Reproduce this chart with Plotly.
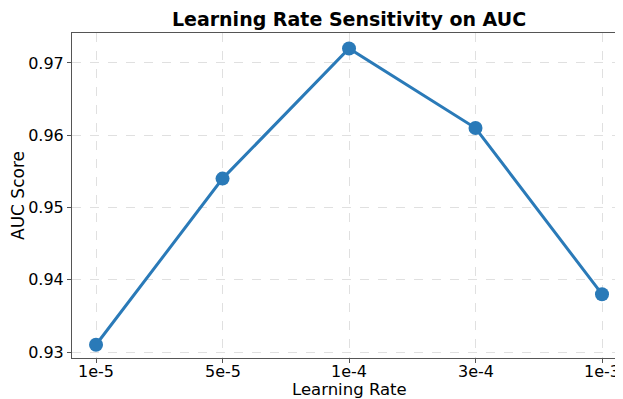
import plotly.graph_objects as go

learning_rates = ["1e-5", "5e-5", "1e-4", "3e-4", "1e-3"]
auc_scores = [0.931, 0.954, 0.972, 0.961, 0.938]

# page body has an 8px margin, so the figure is sized to fit inside the window
W, H, OFF = 615, 391, 8
L, T, B = 72 - OFF, 33 - OFF, 41
plot_w, plot_h = W - L, H - T - B

fig = go.Figure()
fig.add_trace(go.Scatter(
    x=learning_rates, y=auc_scores, mode="lines+markers",
    line=dict(color="#2a7ab8", width=3),
    marker=dict(color="#2a7ab8", size=14),
    showlegend=False,
))

font_family = "DejaVu Sans"
fig.update_layout(
    width=W, height=H,
    margin=dict(l=L, r=0, t=T, b=B, autoexpand=False),
    paper_bgcolor="white", plot_bgcolor="white",
    font=dict(family=font_family, color="black"),
    title=dict(text="<b>Learning Rate Sensitivity on AUC</b>", x=(349 - OFF) / W, xanchor="center",
               y=1 - (19 - OFF) / H, yanchor="middle", automargin=False,
               font=dict(size=19, family=font_family, color="black")),
)
# x tick labels placed as text at each category index, slightly closer to the axis than plotly's default
for i, lr in enumerate(learning_rates):
    fig.add_annotation(
        text=lr, xref="x", yref="paper", x=i,
        y=-(371.5 - OFF - (T + plot_h)) / plot_h,
        xanchor="center", yanchor="middle", showarrow=False,
        font=dict(size=16, family=font_family, color="black"),
    )
fig.add_annotation(
    text="Learning Rate", xref="paper", yref="paper",
    x=(349 - OFF - L) / plot_w, y=-(389 - OFF - (T + plot_h)) / plot_h,
    xanchor="center", yanchor="middle", showarrow=False,
    font=dict(size=16.5, family=font_family, color="black"),
)
fig.update_xaxes(
    type="category", range=[-0.19, 4.166], automargin=False,
    showline=True, linecolor="#555555", linewidth=1, mirror=True,
    ticks="outside", ticklen=4, tickcolor="#555555", showticklabels=False,
    showgrid=True, gridcolor="#e0e0e0", griddash="dash", gridwidth=1,
    zeroline=False,
)
fig.update_yaxes(
    range=[0.92917, 0.97415], tickvals=[0.93, 0.94, 0.95, 0.96, 0.97], tickformat=".2f",
    automargin=False,
    showline=True, linecolor="#555555", linewidth=1,
    ticks="outside", ticklen=4, tickcolor="#555555",
    showgrid=True, gridcolor="#e0e0e0", griddash="dash", gridwidth=1,
    tickfont=dict(size=16), title=dict(text="AUC Score", font=dict(size=17), standoff=6),
    zeroline=False,
)
fig.write_html("out.html")
